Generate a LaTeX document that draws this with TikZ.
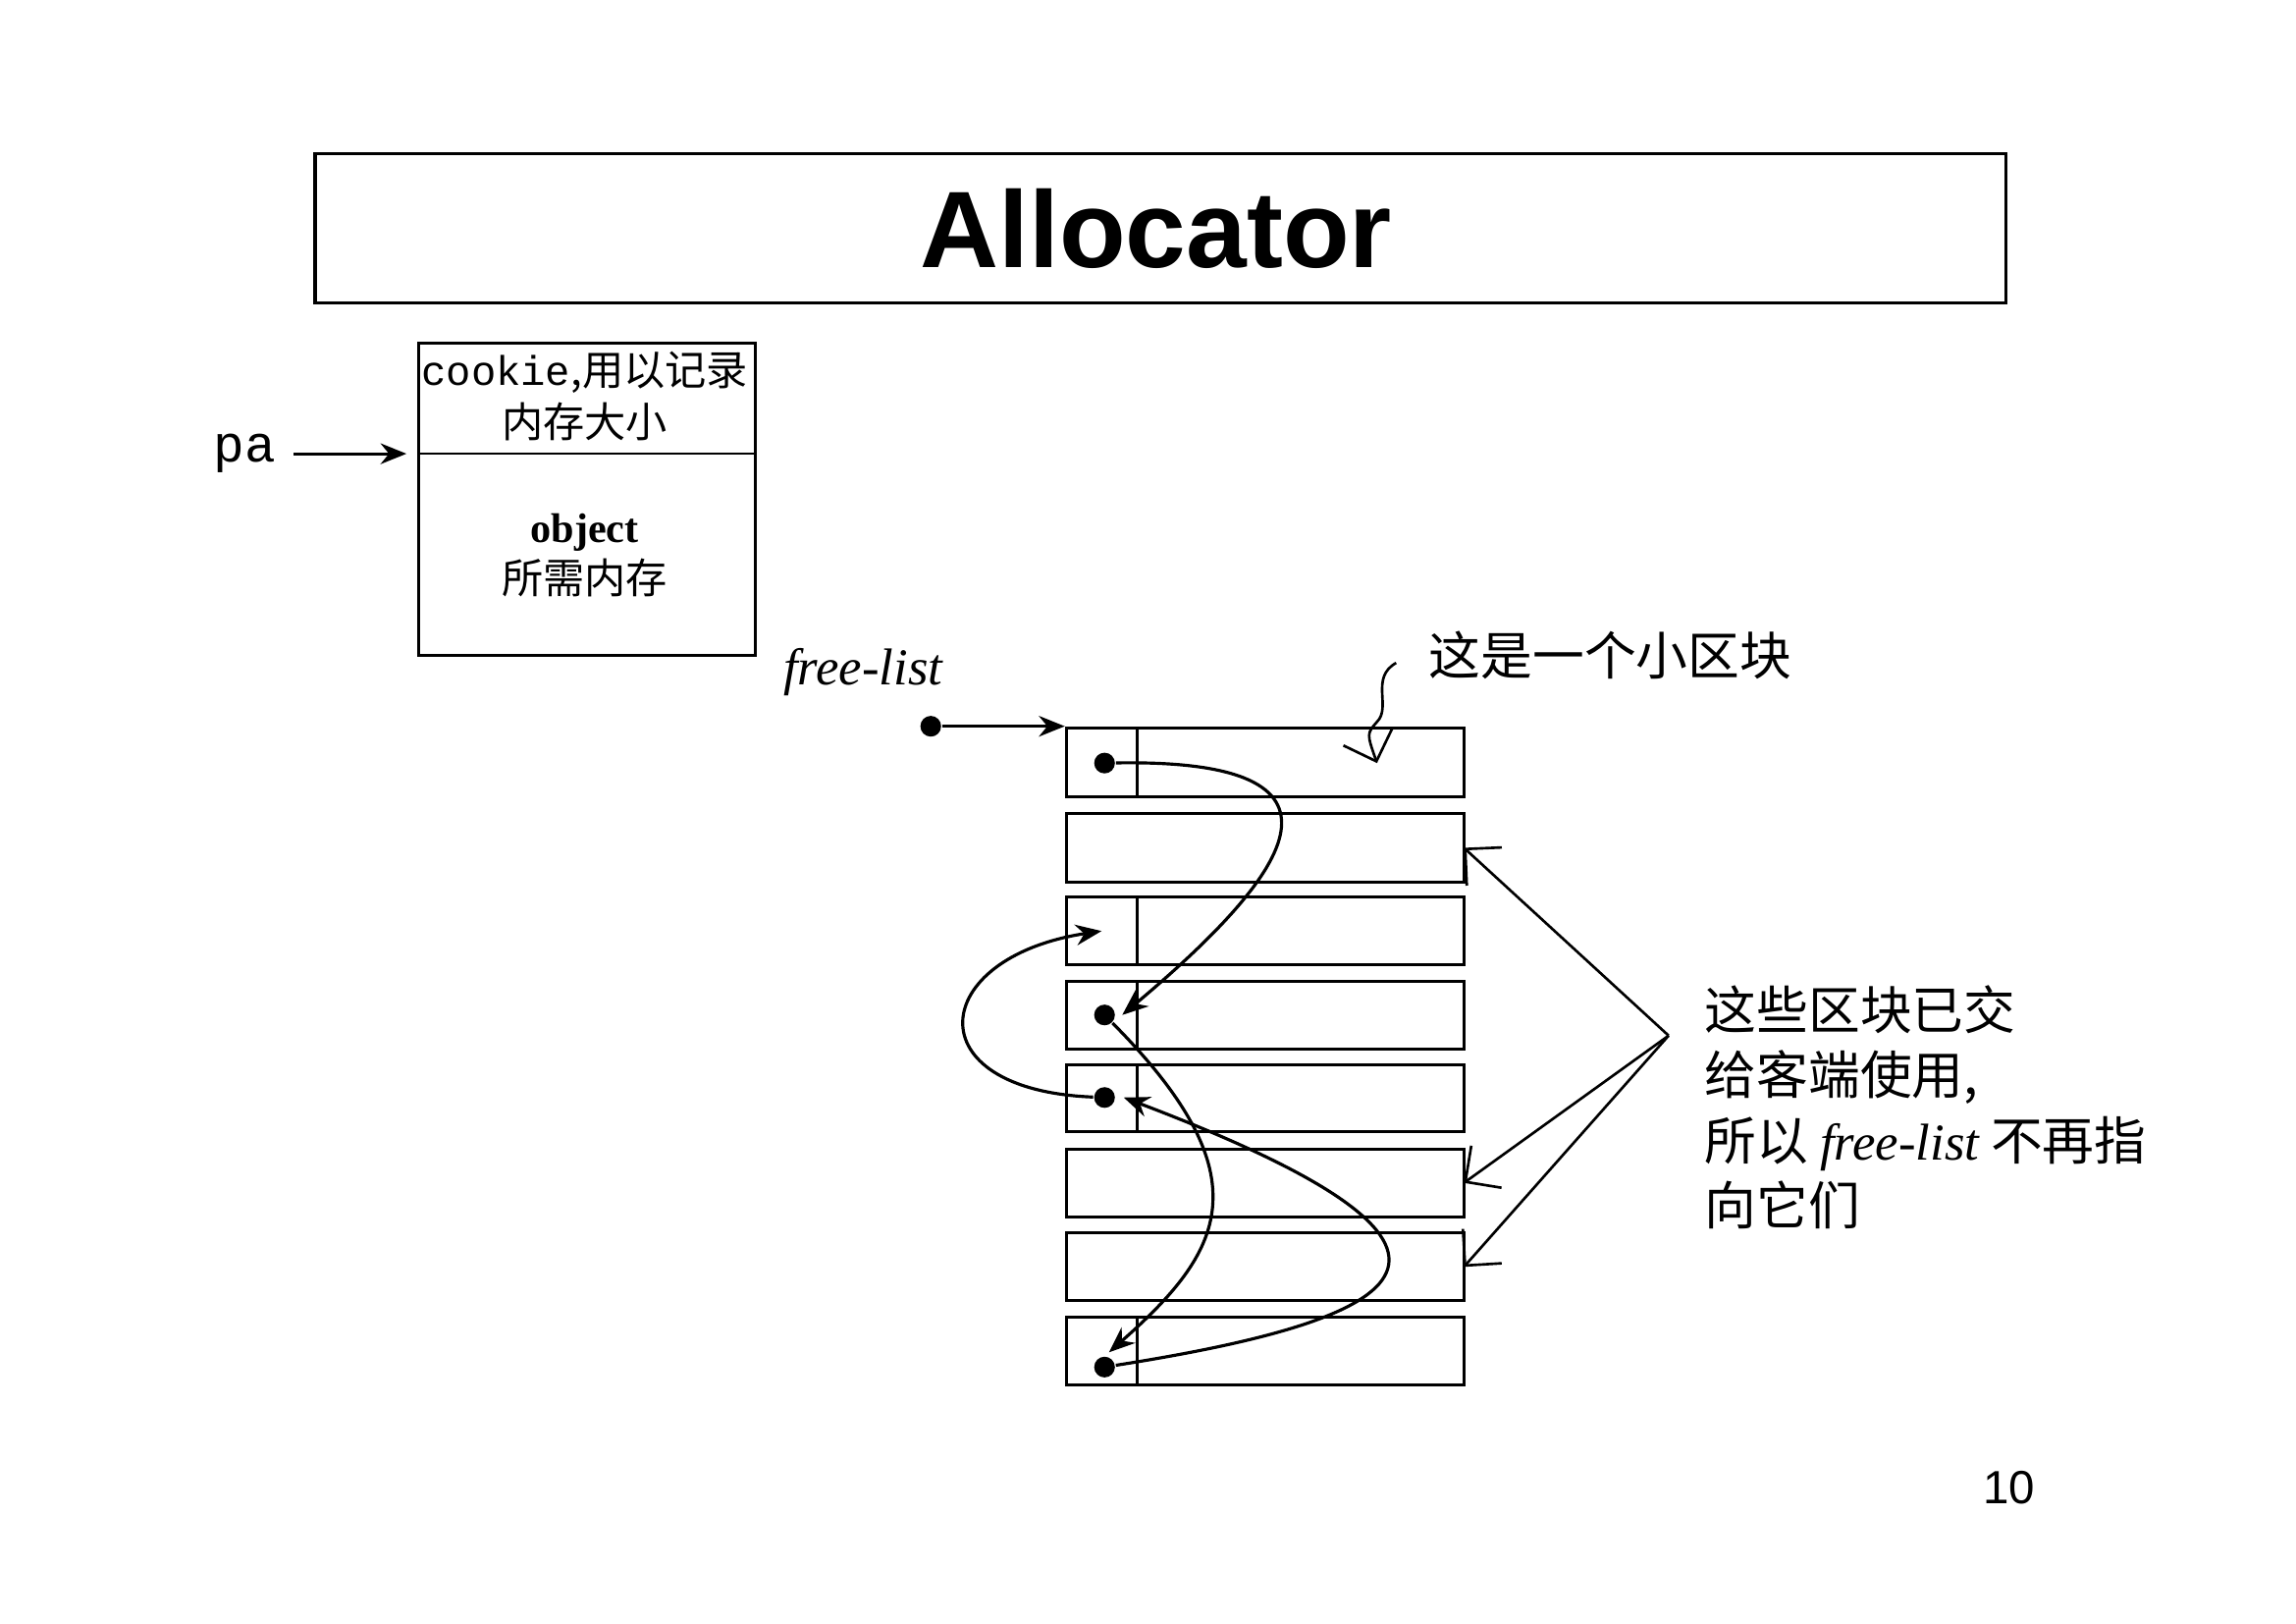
\documentclass[tikz,border=0pt]{standalone}
\usepackage{fontspec}
\setmainfont{Liberation Serif}
\newfontfamily\cjk{Noto Sans CJK SC}
\newfontfamily\sans{Liberation Sans}
\newfontfamily\mono{Liberation Mono}
\usetikzlibrary{arrows.meta}
\begin{document}
\begin{tikzpicture}[x=0.01cm,y=-0.01cm,
  box/.style={draw,line width=0.6pt},
  arr/.style={-{Stealth[length=5pt,width=4pt]},line width=0.6pt},
  thin/.style={-{Straight Barb[length=5pt]},line width=0.5pt},
  dot/.style={circle,fill,inner sep=0pt,minimum size=4pt}]
\useasboundingbox (0,0) rectangle (1559,1102);
\node[box,minimum width=1148*0.01cm,minimum height=101*0.01cm] (title) at (788,155) {};
\node[font=\sans\bfseries\fontsize{21}{24}\selectfont] at (785,155) {Allocator};
% cookie box
\draw[box] (284,233) rectangle (513,445);
\draw[line width=0.5pt] (284,308) -- (513,308);
\node[align=center,font=\fontsize{8}{10}\selectfont,inner sep=0pt] (ck) at (397,269) {{\mono cookie}{\cjk ,用以记录}\\{\cjk 内存大小}};
\node[align=center,font=\fontsize{8}{10}\selectfont,inner sep=0pt] (ob) at (397,377) {\textbf{object}\\{\cjk 所需内存}};
\node[font=\mono\fontsize{10}{12}\selectfont] (pa) at (166,308) {pa};
\coordinate (paT) at (276,308);
\draw[arr] (pa) -- (paT);
% free list
\node[font=\itshape\fontsize{10}{12}\selectfont] (fl) at (586,456) {free-list};
\node[dot] (fd) at (632,493) {};
\coordinate (fT) at (723,493);
\draw[arr] (fd) -- (fT);
% blocks
\foreach \t/\b/\n in {494/541/1,552/599/2,609/655/3,666/712/4,723/768/5,780/826/6,837/883/7,894/940/8}{
  \draw[box] (724,\t) rectangle (994,\b);
  \coordinate (r\n) at (994,{(\t+\b)/2});
}
\foreach \t/\b in {494/541,609/655,666/712,723/768,894/940}{\draw[box] (772,\t) -- (772,\b);}
\node[dot] (d1) at (750,518) {};
\node[dot] (d4) at (750,689) {};
\node[dot] (d5) at (750,745) {};
\node[dot] (d8) at (750,928) {};
\coordinate (a3) at (748,632);
\coordinate (a4) at (762,689);
\coordinate (a5) at (763,745);
\coordinate (a8) at (753,918);
\draw[arr] (d1) .. controls (930,515) and (880,590) .. (a4);
\draw[arr] (d4) .. controls (860,800) and (830,850) .. (a8);
\draw[arr] (d5) .. controls (620,740) and (630,650) .. (a3);
\draw[arr] (d8) .. controls (960,895) and (1040,850) .. (a5);
% labels
\node[font=\cjk\fontsize{10}{12}\selectfont,anchor=west] (lb1) at (958,445) {这是一个小区块};
\coordinate (s1) at (948,450);
\coordinate (s2) at (935,518);
\draw[thin] (s1) .. controls (930,460) and (945,480) .. (935,490) .. controls (928,498) .. (s2);
\node[font=\cjk\fontsize{10}{12.6}\selectfont,align=left,anchor=north west,inner sep=0pt] (lb2) at (1157,668) {这些区块已交\\给客端使用,\\所以 {\rmfamily\itshape free-list} 不再指\\向它们};
\coordinate (hub) at (1133,703);
\draw[thin] (hub) -- (r2);
\draw[thin] (hub) -- (r6);
\draw[thin] (hub) -- (r7);
\node[font=\sans\fontsize{9}{11}\selectfont] (pg) at (1364,1010) {10};
\end{tikzpicture}
\end{document}
